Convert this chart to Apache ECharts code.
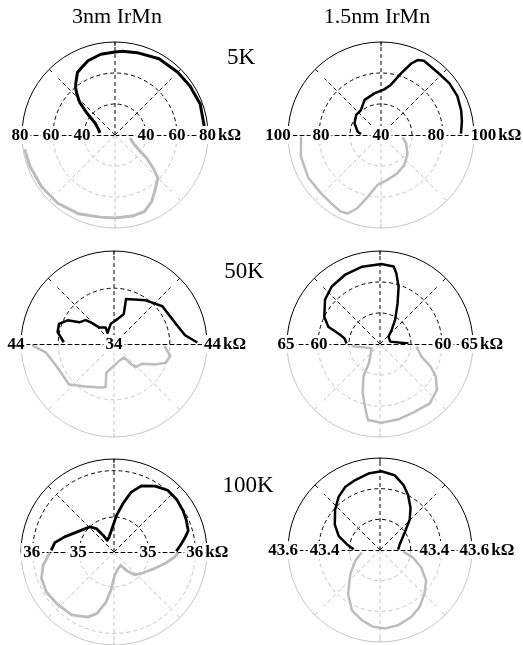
<!DOCTYPE html>
<html><head><meta charset="utf-8">
<script src="https://cdn.jsdelivr.net/npm/echarts@6/dist/echarts.min.js"></script>
<style>html,body{margin:0;padding:0;background:#fff}#c{width:523px;height:645px}</style>
</head><body><div id="c"></div><script>
// ---- column / row titles
const colTitles = ['3nm IrMn', '1.5nm IrMn'];
const rowTitles = ['5K', '50K', '100K'];

// ---- radial scales (center value, outer value), dashed rings, tick labels (right side / left side)
const rng_A = [20, 80];     const rings_A = [40, 60];     const labR_A = [40, 60, 80];   const labL_A = [40, 60, 80];
const rng_B = [40, 100];    const rings_B = [60, 80];     const labR_B = [40, 80, 100];  const labL_B = [80, 100];
const rng_C = [34, 44];     const rings_C = [40];         const labR_C = [34, 44];       const labL_C = [44];
const rng_D = [50, 65];     const rings_D = [55, 60];     const labR_D = [60, 65];       const labL_D = [60, 65];
const rng_E = [34.25, 36.25]; const rings_E = [35, 36];   const labR_E = [35, 36];       const labL_E = [35, 36];
const rng_F = [43, 43.6];   const rings_F = [43.2, 43.4]; const labR_F = [43.4, 43.6];   const labL_F = [43.4, 43.6];

// ---- data: angle (deg) and resistance (kOhm); up = black (0-180), dn = grey (180-360)
// 3nm IrMn, 5K
const th_A_up = [5, 20, 33, 45, 60, 75, 85, 90, 100, 110, 117, 121, 124, 127, 130, 133, 137, 142, 149, 160, 172];
const r_A_up  = [77.9, 78.5, 77.8, 77.2, 76.8, 75.0, 74.2, 73.5, 72.9, 71.0, 68.3, 67.0, 64.3, 62.0, 59.5, 56.0, 51.4, 43.1, 35.0, 31.5, 29.8];
const th_A_dn = [189, 200, 215, 230, 245, 260, 270, 282, 291, 299, 305, 315, 319, 324, 327, 336, 349];
const r_A_dn  = [79.0, 78.5, 78.0, 77.5, 76.0, 73.8, 73.5, 73.5, 72.9, 68.9, 64.6, 59.1, 52.6, 45.2, 39.3, 32.9, 29.9];
// 1.5nm IrMn, 5K
const th_B_up = [1, 10, 17, 27, 37, 47, 54, 60, 64, 67, 72, 79, 86, 99, 115, 129, 141, 156, 172, 177];
const r_B_up  = [91.6, 93.0, 94.1, 95.3, 95.3, 94.5, 94.6, 95.3, 93.8, 90.1, 81.8, 72.9, 69.5, 67.2, 65.0, 60.6, 60.6, 58.7, 55.2, 52.9];
const th_B_dn = [181, 195, 210, 224, 234, 242, 247, 252, 258, 266, 278, 293, 308, 325, 342, 354];
const r_B_dn  = [91.6, 93.5, 94.4, 94.0, 94.6, 95.8, 95.0, 89.7, 80.6, 72.3, 69.3, 66.9, 64.5, 60.9, 57.0, 54.0];
// 3nm IrMn, 50K
const th_C_up = [1, 7, 18, 38, 54, 75, 72, 82, 99, 120, 117, 132, 137, 140, 148, 153, 160, 168, 178];
const r_C_up  = [42.96, 41.7, 41.0, 40.6, 39.8, 39.0, 37.4, 36.7, 36.2, 35.4, 36.0, 36.4, 37.4, 38.0, 38.4, 39.6, 40.3, 40.2, 39.4];
const th_C_dn = [181, 187, 202, 222, 236, 253, 259, 255, 266, 287, 307, 310, 313, 325, 334, 340, 348, 358];
const r_C_dn  = [42.8, 41.4, 40.6, 40.5, 39.5, 38.9, 38.7, 37.2, 36.5, 35.9, 35.8, 36.8, 37.4, 37.7, 39.0, 39.9, 40.2, 39.4];
// 1.5nm IrMn, 50K
const th_D_up = [1, 13, 41, 50, 58, 66.5, 72, 77, 80, 89, 103, 117, 130, 141, 154, 161.5, 167, 171, 179];
const r_D_up  = [54.6, 51.7, 51.8, 52.9, 54.6, 57.1, 59.7, 61.7, 62.7, 62.9, 62.8, 62.5, 62.1, 61.4, 60.0, 58.8, 56.6, 55.8, 55.4];
const th_D_dn = [184, 207.5, 240, 243, 250.6, 257, 261, 271, 284, 297, 310, 321, 330, 336, 343, 356];
const r_D_dn  = [54.6, 51.5, 53.6, 55.9, 58.4, 60.6, 62.4, 62.7, 62.5, 62.3, 62.5, 61.8, 60.4, 58.9, 57.0, 55.9];
// 3nm IrMn, 100K
const th_E_up = [0.6, 7, 12, 16, 24, 31, 40, 49, 58, 67.5, 74, 79.5, 86, 92, 108, 120, 123, 127, 134, 146, 156, 163, 171, 178.5];
const r_E_up  = [35.59, 35.71, 35.82, 35.91, 35.95, 35.98, 36.01, 36.01, 35.92, 35.79, 35.59, 35.31, 35.04, 34.82, 34.59, 34.54, 34.68, 34.88, 35.0, 35.09, 35.22, 35.36, 35.54, 35.6];
const th_E_dn = [180.6, 190.6, 200, 210.6, 222, 236, 248, 254.5, 261, 266, 271.6, 283.5, 296.6, 304, 312, 324.5, 337.7, 348.5, 355.3, 359.4];
const r_E_dn  = [35.63, 35.80, 35.91, 35.94, 35.91, 35.88, 35.76, 35.62, 35.34, 35.04, 34.75, 34.62, 34.57, 34.73, 34.91, 35.02, 35.19, 35.40, 35.56, 35.63];
// 1.5nm IrMn, 100K
const th_F_up = [1, 16, 35, 45.6, 54, 63, 70, 79, 89, 98.6, 109.5, 118.7, 127.7, 138, 150.7, 161.4, 170.4, 178.6];
const r_F_up  = [43.118, 43.134, 43.196, 43.277, 43.339, 43.403, 43.45, 43.497, 43.514, 43.504, 43.484, 43.47, 43.44, 43.394, 43.338, 43.284, 43.218, 43.172];
const th_F_dn = [188, 203.7, 219, 234, 245, 255.5, 265, 273.6, 283.6, 295, 304.7, 315.4, 326.4, 337, 347, 356];
const r_F_dn  = [43.12, 43.176, 43.249, 43.354, 43.434, 43.473, 43.503, 43.513, 43.504, 43.482, 43.453, 43.407, 43.361, 43.292, 43.221, 43.151];

// layout / style per panel (label nudges in px, outward positive)
const panels = [
  {center: [115, 135], R: 93, rng: rng_A, rings: rings_A, labR: labR_A, labL: labL_A, up: [th_A_up, r_A_up], dn: [th_A_dn, r_A_dn], w: 3,   nudR: [0, 0, 0],  nudL: [2, 2, 2]},
  {center: [381, 135], R: 93, rng: rng_B, rings: rings_B, labR: labR_B, labL: labL_B, up: [th_B_up, r_B_up], dn: [th_B_dn, r_B_dn], w: 2.5, nudR: [0, -7, 10], nudL: [-2, 10]},
  {center: [114, 344], R: 93, rng: rng_C, rings: rings_C, labR: labR_C, labL: labL_C, up: [th_C_up, r_C_up], dn: [th_C_dn, r_C_dn], w: 2.5, nudR: [0, 6],    nudL: [5]},
  {center: [380, 344], R: 93, rng: rng_D, rings: rings_D, labR: labR_D, labL: labL_D, up: [th_D_up, r_D_up], dn: [th_D_dn, r_D_dn], w: 2.5, nudR: [1, -3],   nudL: [-1, 1]},
  {center: [114, 552], R: 93, rng: rng_E, rings: rings_E, labR: labR_E, labL: labL_E, up: [th_E_up, r_E_up], dn: [th_E_dn, r_E_dn], w: 2.8, nudR: [-1, 0],   nudL: [1, 1]},
  {center: [380, 550], R: 92, rng: rng_F, rings: rings_F, labR: labR_F, labL: labL_F, up: [th_F_up, r_F_up], dn: [th_F_dn, r_F_dn], w: 2.5, nudR: [-7, 3],   nudL: [-6, 5]}
];

const GRID_GREY = '#c6c6c6';
const DATA_GREY = '#bcbcbc';
const DASH = [4, 3];
const labFont = {fontFamily: 'Liberation Serif', fontWeight: 'bold', fontSize: 17, color: '#000', textBorderWidth: 0, textShadowBlur: 0};

const polar = [], angleAxis = [], radiusAxis = [], series = [];
panels.forEach(function (p) {
  [true, false].forEach(function (top) {
    const pi = polar.length;
    const col = top ? '#000' : GRID_GREY;
    const spokeAngles = top ? [45, 90, 135] : [225, 270, 315];
    polar.push({center: p.center, radius: p.R});
    angleAxis.push({
      polarIndex: pi, type: 'value', min: top ? 0 : 180, max: top ? 180 : 360,
      startAngle: top ? 0 : 180, endAngle: top ? 180 : 360, clockwise: false, interval: 45,
      axisLine: {show: true, lineStyle: {color: col, width: 1}},
      axisTick: {show: true, inside: true, length: 4, customValues: spokeAngles, lineStyle: {color: col}},
      axisLabel: {show: false},
      splitLine: {show: false}
    });
    radiusAxis.push({
      polarIndex: pi, type: 'value', min: p.rng[0], max: p.rng[1],
      axisLine: {show: true, lineStyle: {color: '#000', width: 1, type: DASH}},
      axisTick: {show: false, customValues: p.rings},
      axisLabel: {show: false},
      splitLine: {show: true, lineStyle: {color: col, width: 1, type: DASH}}
    });
    // dashed spokes (vertical to the rim, diagonals stop short of it)
    spokeAngles.forEach(function (a) {
      const end = (a % 90 === 0) ? p.rng[1] : p.rng[0] + 0.86 * (p.rng[1] - p.rng[0]);
      series.push({
        type: 'line', coordinateSystem: 'polar', polarIndex: pi, silent: true,
        data: [[p.rng[0], a], [end, a]], showSymbol: false, symbol: 'none', z: 1,
        lineStyle: {color: col, width: 1, type: DASH}
      });
    });
    // measured curve
    const d = top ? p.up : p.dn;
    series.push({
      type: 'line', coordinateSystem: 'polar', polarIndex: pi,
      data: d[1].map(function (r, i) { return [r, d[0][i]]; }),
      showSymbol: false, symbol: 'none', smooth: false, z: 5,
      lineStyle: {color: top ? '#000' : DATA_GREY, width: p.w, join: 'round'}
    });
    // radial tick labels along the horizontal axis
    const labs = top ? p.labR : p.labL;
    const nud = top ? p.nudR : p.nudL;
    const ang = top ? 0 : 180;
    series.push({
      type: 'scatter', coordinateSystem: 'polar', polarIndex: pi, silent: true, z: 6,
      symbolSize: 1, itemStyle: {color: 'rgba(255,255,255,0)', opacity: 1},
      emphasis: {disabled: true},
      data: labs.map(function (v, i) {
        return {value: [v, ang], label: {offset: [top ? nud[i] : -nud[i], 0]}};
      }),
      label: Object.assign({
        show: true, position: 'inside', opacity: 1,
        formatter: function (prm) {
          const v = prm.value[0];
          const s = String(+(+v).toFixed(2));
          if (top && prm.dataIndex === labs.length - 1) return '{p| }{v|' + s + '}{u|k\u03A9}';
          return '{v|' + s + '}';
        },
        rich: {
          p: Object.assign({width: 24}, labFont),
          v: Object.assign({backgroundColor: '#fff', padding: [1, 2, 0, 2]}, labFont),
          u: Object.assign({backgroundColor: '#fff', padding: [1, 2, 0, 0]}, labFont)
        }
      }, labFont)
    });
  });
});

const txt = function (t, x, y, size) {
  return {type: 'text', x: x, y: y, z: 10, style: {text: t, fill: '#000', font: 'normal ' + size + 'px "Liberation Serif"', textAlign: 'center', textVerticalAlign: 'bottom'}};
};
const graphic = [
  txt(colTitles[0], 117, 28, 22), txt(colTitles[1], 377, 28, 22),
  txt(rowTitles[0], 241, 69, 23), txt(rowTitles[1], 244, 283, 23), txt(rowTitles[2], 248, 497, 23)
];

const chart = echarts.init(document.getElementById('c'), null, {renderer: 'canvas'});
chart.setOption({
  animation: false, backgroundColor: '#fff',
  polar: polar, angleAxis: angleAxis, radiusAxis: radiusAxis, series: series, graphic: graphic
});
</script></body></html>
